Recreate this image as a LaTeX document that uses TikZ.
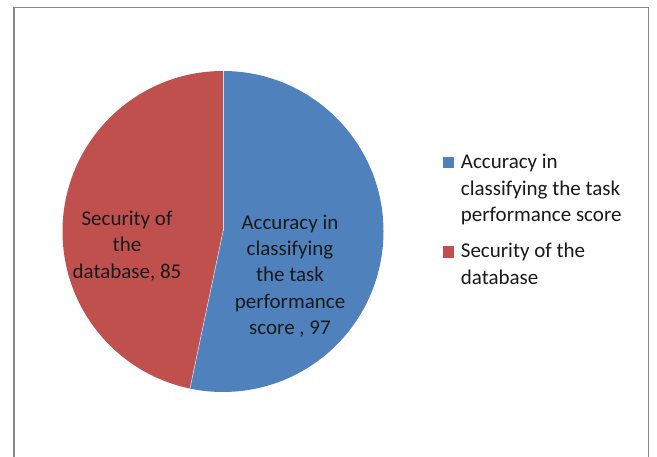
\documentclass[tikz,border=0pt]{standalone}
\usepackage{fontspec}
\setmainfont{Carlito}
\definecolor{pieblue}{HTML}{4F81BD}
\definecolor{piered}{HTML}{C0504D}
\definecolor{framegray}{HTML}{868686}
\definecolor{txt}{HTML}{1A1A1A}
\begin{document}
\begin{tikzpicture}[x=1pt,y=-1pt,
  lbl/.style={inner sep=0pt,align=center,text=txt,font=\fontsize{21}{26.3}\selectfont},
  leg/.style={inner sep=0pt,align=left,anchor=west,text=txt,font=\fontsize{21}{26.5}\selectfont},
  legbox/.style={minimum size=11.5pt,inner sep=0pt}]
\useasboundingbox (0,0) rectangle (657,457);
\fill[white] (0,0) rectangle (657,457);
\draw[framegray,line width=1.6pt] (14,470) -- (14,7.5) -- (648.5,7.5) -- (648.5,470);
\coordinate (c) at (223,231.5);
% slices: blue from 90deg clockwise 191.87deg
\fill[pieblue] (c) -- ++(90:160.5pt) arc[start angle=90,end angle=-101.87,radius=160.5pt] -- cycle;
\fill[piered] (c) -- ++(90:160.5pt) arc[start angle=90,end angle=258.13,radius=160.5pt] -- cycle;
\draw[white!70!pieblue,line width=0.6pt] (c) -- ++(90:160.5pt);
\draw[white!70!pieblue,line width=0.6pt] (c) -- ++(-101.87:160.5pt);
\node[lbl] (lred) at (127,246) {Security of\\the\\database, 85};
\node[lbl] (lblue) at (290,276) {Accuracy in\\classifying\\the task\\performance\\score , 97};
\node[legbox,fill=pieblue] (k1) at (448.5,162.5) {};
\node[legbox,fill=piered] (k2) at (448.5,252) {};
\node[leg] (t1) at (460.7,189.6) {Accuracy in\\classifying the task\\performance score};
\node[leg] (t2) at (460.7,264) {Security of the\\database};
\end{tikzpicture}
\end{document}
